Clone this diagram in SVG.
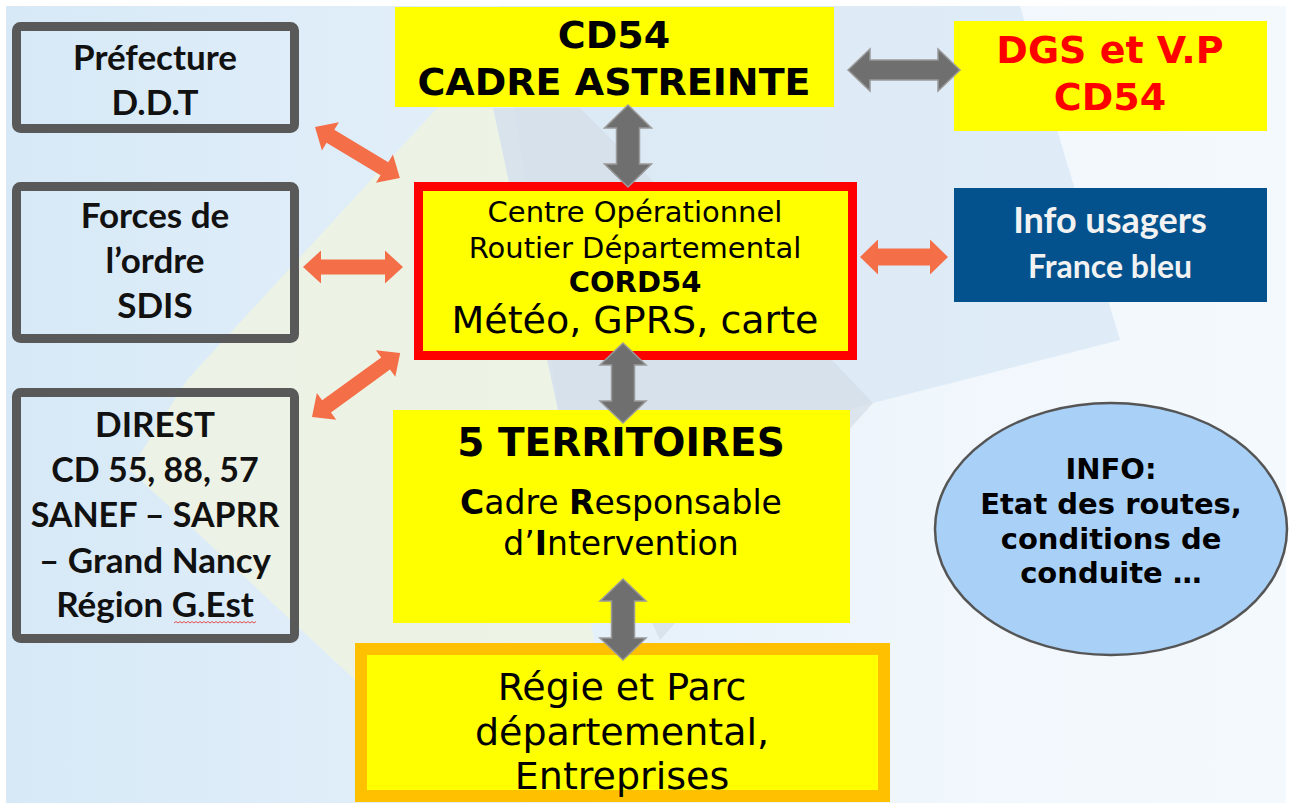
<svg xmlns="http://www.w3.org/2000/svg" width="1292" height="803" viewBox="0 0 1292 803">
<defs>
<linearGradient id="bg" x1="0" y1="0" x2="1" y2="0">
<stop offset="0" stop-color="#d7e9f7"/>
<stop offset="0.5" stop-color="#e6f1fa"/>
<stop offset="0.75" stop-color="#f1f7fc"/>
<stop offset="1" stop-color="#f4f9fd"/>
</linearGradient>
<style>
.gbox{fill:none;stroke:#595959;stroke-width:9}
.yel{fill:#ffff00}
.lt{font-family:Lato,"Liberation Sans",sans-serif;font-weight:bold;font-size:35px;fill:#111;text-anchor:middle}
.vb{font-family:"DejaVu Sans",Verdana,sans-serif;font-weight:bold;text-anchor:middle;fill:#000}
.vr{font-family:"DejaVu Sans",Verdana,sans-serif;text-anchor:middle;fill:#000}
.garr{fill:#6f6f6f;stroke:#9a9a9a;stroke-width:1.5}
.oarr{fill:#f46e48}
</style>
</defs>
<rect x="0" y="0" width="1292" height="803" fill="#ffffff"/>
<rect x="6" y="6" width="1280" height="797" fill="url(#bg)"/>
<g id="background">
<polygon points="500,6 1020,6 1120,340 873,403 620,470 560,420" fill="#d9e8f5" opacity="0.8"/>
<polygon points="493,108 580,108 830,358 873,403 660,640 560,420" fill="#d3dbe5" opacity="0.65"/>
<polygon points="440,105 187,380 130,470 355,680 600,680 560,420 493,108" fill="#edf3e2" opacity="0.9"/>
</g>
<g id="prefecture">
<rect class="gbox" x="16.5" y="26.5" width="278" height="102" rx="4"/>
<text class="lt" x="155" y="70">Préfecture</text>
<text class="lt" x="155" y="115">D.D.T</text>
</g>
<g id="forces">
<rect class="gbox" x="16.5" y="186.5" width="278" height="152" rx="4"/>
<text class="lt" x="155" y="228">Forces de</text>
<text class="lt" x="155" y="273">l’ordre</text>
<text class="lt" x="155" y="318">SDIS</text>
</g>
<g id="direst">
<rect class="gbox" x="16.5" y="392.5" width="278" height="246" rx="4"/>
<text class="lt" x="155" y="437">DIREST</text>
<text class="lt" x="155" y="482" style="font-size:34px">CD 55, 88, 57</text>
<text class="lt" x="155" y="527" style="font-size:34px">SANEF – SAPRR</text>
<text class="lt" x="155" y="573">– Grand Nancy</text>
<text class="lt" x="155" y="617">Région G.Est</text>
<path d="M174,623 l2,-1.5 l2,1.5 l2,-1.5 l2,1.5 l2,-1.5 l2,1.5 l2,-1.5 l2,1.5 l2,-1.5 l2,1.5 l2,-1.5 l2,1.5 l2,-1.5 l2,1.5 l2,-1.5 l2,1.5 l2,-1.5 l2,1.5 l2,-1.5 l2,1.5 l2,-1.5 l2,1.5 l2,-1.5 l2,1.5 l2,-1.5 l2,1.5 l2,-1.5 l2,1.5 l2,-1.5 l2,1.5 l2,-1.5 l2,1.5 l2,-1.5 l2,1.5 l2,-1.5 l2,1.5 l2,-1.5 l2,1.5 l2,-1.5 l2,1.5 l2,-1.5" fill="none" stroke="#e05050" stroke-width="1"/>
</g>
<g id="cd54">
<rect class="yel" x="395" y="7" width="439" height="100"/>
<text class="vb" x="614" y="48" font-size="38">CD54</text>
<text class="vb" x="614" y="95" font-size="38">CADRE ASTREINTE</text>
</g>
<g id="dgs">
<rect class="yel" x="954" y="21" width="313" height="110"/>
<text class="vb" x="1110" y="63" font-size="38" style="fill:#ff0000">DGS et V.P</text>
<text class="vb" x="1110" y="110" font-size="38" style="fill:#ff0000">CD54</text>
</g>
<g id="info-usagers">
<rect x="954" y="188" width="313" height="114" fill="#03528e"/>
<text class="lt" x="1110" y="233" style="fill:#f2f2f2;font-size:36px">Info usagers</text>
<text class="lt" x="1110" y="278" style="fill:#f2f2f2;font-size:32px">France bleu</text>
</g>
<g id="cord54">
<rect x="418.5" y="186.5" width="434" height="169" fill="#ffff00" stroke="#ff0000" stroke-width="9"/>
<text class="vr" x="635" y="222" font-size="29">Centre Opérationnel</text>
<text class="vr" x="635" y="258" font-size="29">Routier Départemental</text>
<text class="vb" x="635" y="292" font-size="29">CORD54</text>
<text class="vr" x="635" y="333" font-size="38">Météo, GPRS, carte</text>
</g>
<g id="territoires">
<rect class="yel" x="393" y="410" width="457" height="213"/>
<text class="vb" x="621" y="456" font-size="39">5 TERRITOIRES</text>
<text class="vr" x="621" y="514" font-size="33"><tspan font-weight="bold">C</tspan>adre <tspan font-weight="bold">R</tspan>esponsable</text>
<text class="vr" x="621" y="555" font-size="33">d’<tspan font-weight="bold">I</tspan>ntervention</text>
</g>
<g id="regie">
<rect x="361" y="649" width="523" height="147" fill="#ffff00" stroke="#ffc000" stroke-width="12"/>
<text class="vr" x="622" y="700" font-size="38">Régie et Parc</text>
<text class="vr" x="622" y="745" font-size="38">départemental,</text>
<text class="vr" x="622" y="789" font-size="38">Entreprises</text>
</g>
<g id="info-ellipse">
<ellipse cx="1111" cy="529" rx="176" ry="126" fill="#a9d1f7" stroke="#555555" stroke-width="2.5"/>
<text class="vb" x="1111" y="479" font-size="29">INFO:</text>
<text class="vb" x="1111" y="514" font-size="29">Etat des routes,</text>
<text class="vb" x="1111" y="549" font-size="29">conditions de</text>
<text class="vb" x="1111" y="583" font-size="29">conduite …</text>
</g>
<g id="connectors">
<path class="garr" d="M628,105 L651.5,128 L639.5,128 L639.5,164 L651.5,164 L628,187 L604.5,164 L616.5,164 L616.5,128 L604.5,128 Z"/>
<path class="garr" d="M623,343 L646,365 L634.5,365 L634.5,401 L646,401 L623,423 L600,401 L611.5,401 L611.5,365 L600,365 Z"/>
<path class="garr" d="M623,579 L646,601 L634.5,601 L634.5,638 L646,638 L623,660 L600,638 L611.5,638 L611.5,601 L600,601 Z"/>
<path class="garr" d="M848,70 L870,49 L870,60 L938,60 L938,49 L960,70 L938,91 L938,80 L870,80 L870,91 Z"/>
<path class="oarr" d="M860,257 L878,239.5 L878,248.5 L930,248.5 L930,239.5 L948,257 L930,274.5 L930,265.5 L878,265.5 L878,274.5 Z"/>
<path class="oarr" d="M303,267 L321,250.5 L321,259.5 L385,259.5 L385,250.5 L403,267 L385,283.5 L385,274.5 L321,274.5 L321,283.5 Z"/>
<path class="oarr" transform="translate(315,127) rotate(31)" d="M0,0 L18,-16.5 L18,-7.5 L81,-7.5 L81,-16.5 L99,0 L81,16.5 L81,7.5 L18,7.5 L18,16.5 Z"/>
<path class="oarr" transform="translate(312,417) rotate(-36)" d="M0,0 L18,-16.5 L18,-7.5 L91,-7.5 L91,-16.5 L109,0 L91,16.5 L91,7.5 L18,7.5 L18,16.5 Z"/>
</g>
</svg>
